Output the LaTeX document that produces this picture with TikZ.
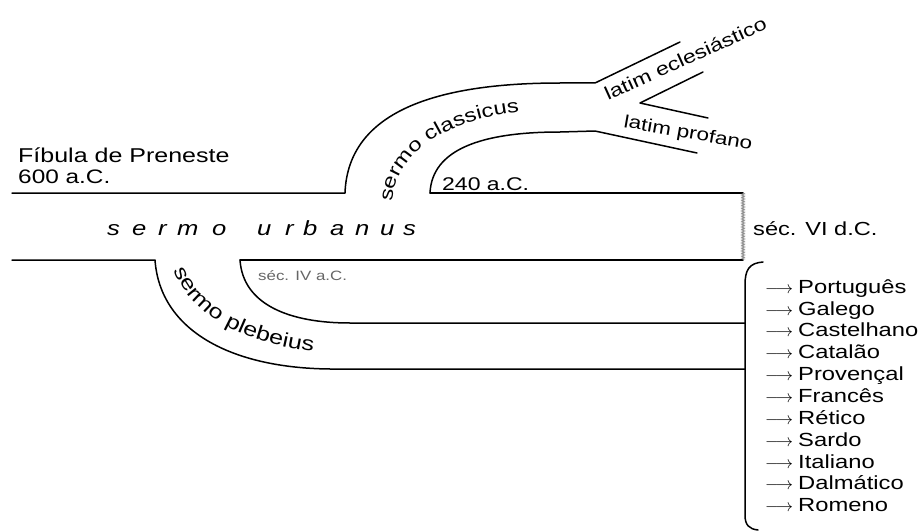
\documentclass[tikz,border=0pt]{standalone}
\usepackage{fontspec}
\setmainfont{Liberation Sans}[FakeStretch=1.25]
\usetikzlibrary{decorations.text,decorations.pathmorphing}
\begin{document}
\begin{tikzpicture}[x=1pt,y=-1pt,
  line/.style={line width=1.5pt, line cap=round, line join=round},
  lbl/.style={inner sep=0pt, anchor=base west, font=\fontsize{20}{22}\selectfont},
  smalllbl/.style={inner sep=0pt, anchor=base west, font=\fontsize{18.4}{22}\selectfont},
  graylbl/.style={inner sep=0pt, anchor=base west, text=black!60, font=\fontsize{13.5}{16}\selectfont},
  langlbl/.style={inner sep=0pt, anchor=base west, font=\fontsize{19}{22}\selectfont},
  urb/.style={inner sep=0pt, anchor=base west, font=\fontsize{20.5}{22}\selectfont\itshape},
  rotlbl/.style={inner sep=0pt, anchor=base west, font=\fontsize{18}{20}\selectfont},
  seam/.style={draw=black!45, line width=0.6pt, decorate, decoration={zigzag, segment length=1.6pt, amplitude=1.4pt}}]
\fill[white] (0,0) rectangle (920,532);
\useasboundingbox (0,0) rectangle (920,532);

% key coordinates
\coordinate (tl) at (12,193);
\coordinate (cs) at (345,193);
\coordinate (ct) at (595,83);
\coordinate (ecl) at (680,42);
\coordinate (ci) at (430,193);
\coordinate (cib) at (595,131);
\coordinate (prof) at (697,153);
\coordinate (vtop) at (703,72);
\coordinate (vmid) at (640,103);
\coordinate (vbot) at (708,118);
\coordinate (sr) at (743,193);
\coordinate (br) at (743,260);
\coordinate (bl) at (12,260);
\coordinate (ps) at (155,260);
\coordinate (pi) at (240,260);
\coordinate (g1) at (745,323);
\coordinate (g2) at (745,369);

% upper branch: sermo classicus
\draw[line] (tl) -- (cs) .. controls (348,112) and (435,83) .. (560,83) -- (ct) -- (ecl);
\draw[line] (ci) .. controls (432,150) and (480,132) .. (560,132) -- (cib) -- (prof);
\draw[line] (ci) -- (sr);
\draw[line] (vtop) -- (vmid) -- (vbot);

% lower branch: sermo plebeius
\draw[line] (bl) -- (ps) .. controls (160,330) and (230,368) .. (330,369) -- (g2);
\draw[line] (pi) -- (br);
\draw[line] (pi) .. controls (243,305) and (290,323) .. (350,323) -- (g1);

% seam at end of sermo urbanus
\draw[seam] (sr) -- (br);

% bracket
\draw[line] (763,262) .. controls (749,263) and (745,270) .. (745,285) -- (745,515) .. controls (745,525) and (749,529) .. (758,530);

% texts
\node[lbl] (fib) at (18,162) {Fíbula de Preneste};
\node[lbl, font=\fontsize{19.5}{22}\selectfont] (fibd) at (18,183) {600 a.C.};
\node[smalllbl] (d240) at (442,190) {240 a.C.};
\node[lbl, font=\fontsize{18.9}{22}\selectfont] (vi) at (753,235) {séc. VI d.C.};
\node[graylbl] (iv) at (258,280) {séc. IV a.C.};

\foreach \ch/\xx [count=\k] in {s/107,e/132,r/158,m/177,o/212,u/257,r/285,b/303,a/330,n/355,u/380,s/403}
  \node[urb] (urb\k) at (\xx,235) {\ch};

\node[rotlbl, rotate=24.4, font=\fontsize{18.6}{20}\selectfont] (eccl) at (608,101) {latim eclesiástico};
\node[rotlbl, rotate=-10] (profl) at (623,127) {latim profano};

\path[decorate, decoration={text along path, text align=left,
   text={|\fontsize{19}{20}\selectfont|sermo classicus}}]
   (392,202) .. controls (397,150) and (450,116) .. (535,111);
\path[decorate, decoration={text along path, text align=left,
   text={|\fontsize{20}{20}\selectfont|sermo plebeius}}]
   (174,270) .. controls (193,318) and (245,348) .. (345,355);

\foreach \t [count=\i from 0] in {Português,Galego,Castelhano,Catalão,Provençal,Francês,Rético,Sardo,Italiano,Dalmático,Romeno}
  \node[langlbl] (lang\i) at (765,{293.3+21.84*\i}) {\makebox[33pt][l]{\fontsize{16.8}{15}\selectfont$\longrightarrow$}\t};
\end{tikzpicture}
\end{document}
